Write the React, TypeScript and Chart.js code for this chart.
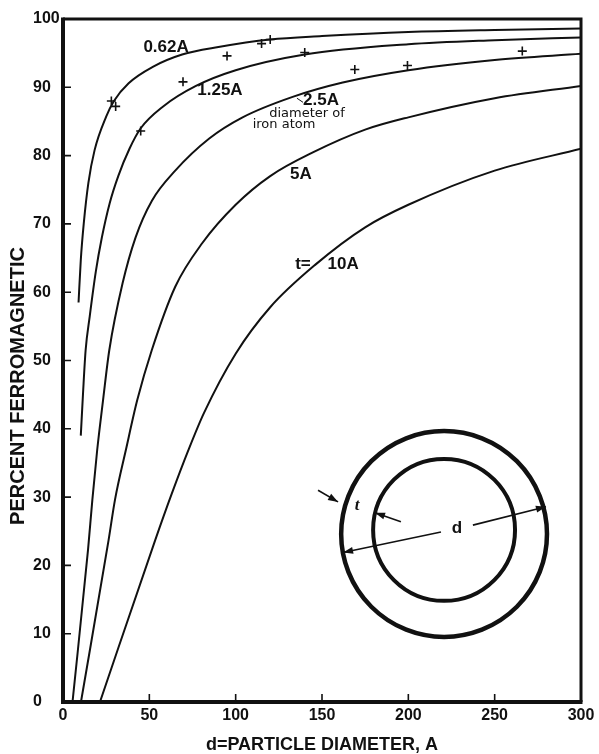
import { useEffect, useRef } from "react";
import { Chart, registerables } from "chart.js";

Chart.register(...registerables);

const SANS = '"Liberation Sans", Arial, sans-serif';
const INK = "#111";

// ---- axis ticks ----
const xTickValues = [0, 50, 100, 150, 200, 250, 300];
const yTickValues = [0, 10, 20, 30, 40, 50, 60, 70, 80, 90, 100];

// ---- curves: shell thickness t (Å); d = particle diameter, p = percent ferromagnetic ----
const d062 = [9, 10.3, 12, 14.7, 18.3, 25, 29.5, 38, 52, 69, 90, 120, 150, 200, 250, 300];
const p062 = [58.5, 64.7, 70, 76, 80.8, 85.7, 88, 90.6, 93, 94.8, 95.9, 97, 97.5, 98.1, 98.4, 98.6];

const d125 = [10.3, 11.6, 13.1, 15.5, 19, 22.5, 27, 32, 38.5, 45, 58, 77, 100, 140, 200, 250, 300];
const p125 = [39, 45.2, 51.5, 56.5, 63, 68, 73, 77, 81, 84, 87.2, 90.2, 92.5, 94.8, 96.3, 96.9, 97.3];

const d250 = [5.5, 14.5, 17, 19.8, 23.2, 26.8, 34.5, 42, 51.5, 65, 84.7, 104, 133, 162, 200, 250, 300];
const p250 = [0, 22.3, 29.6, 36.9, 44.2, 51.5, 61.3, 68, 73.4, 77.8, 82.5, 85.6, 88.6, 90.7, 92.5, 94, 94.9];

const d500 = [10.4, 26.4, 30.1, 36.5, 43, 51.4, 65, 80.7, 100, 120, 145, 175, 200, 250, 300];
const p500 = [0, 23.7, 29.6, 37, 44.2, 51.5, 60.8, 67.2, 72.8, 77, 80.5, 83.8, 85.6, 88.4, 90.2];

const d1000 = [21.4, 53.4, 63, 72.5, 81.6, 100, 120, 146, 175, 200, 250, 300];
const p1000 = [0, 23.7, 30.5, 36.8, 42.3, 51, 57.8, 64, 69.5, 72.8, 77.8, 81];

// ---- measured points (+) ----
const measuredD = [28, 30.5, 45, 69.5, 95, 115, 120, 140, 169, 199.5, 266];
const measuredP = [88, 87.2, 83.6, 90.8, 94.6, 96.4, 97, 95.1, 92.6, 93.2, 95.3];

// ---- text ----
const xTitle = "d=PARTICLE DIAMETER, A";
const yTitle = "PERCENT FERROMAGNETIC";

const curveLabels = [
  { text: "0.62A", at: [59.7, 95.9], font: `bold 17px ${SANS}` },
  { text: "1.25A", at: [90.9, 89.5], font: `bold 17px ${SANS}` },
  { text: "2.5A", at: [149.4, 88.1], font: `bold 17px ${SANS}` },
  { text: "diameter of", at: [141.3, 86.2], font: `13px "DejaVu Sans", sans-serif` },
  { text: "iron atom", at: [128, 84.6], font: `13px "DejaVu Sans", sans-serif` },
  { text: "5A", at: [137.8, 77.2], font: `bold 17px ${SANS}` },
  { text: "t=", at: [139, 64.1], font: `bold 17px ${SANS}` },
  { text: "10A", at: [162.2, 64.1], font: `bold 17px ${SANS}` },
];

// inset sketch of a shell particle, placed in data units
const inset = {
  outer: { c: [220.7, 24.6], r: 59.6 },
  inner: { c: [220.7, 25.2], r: 41.1 },
  tArrowOut: { from: [147.7, 31.0], to: [159.3, 29.3] },
  tArrowIn: { from: [195.7, 26.4], to: [180.7, 27.7] },
  tLabel: [170.3, 28.7],
  dLeft: { from: [218.9, 24.9], to: [162.2, 21.9] },
  dRight: { from: [237.4, 25.9], to: [279.7, 28.6] },
  dLabel: [228.2, 25.5],
  leader25: { from: [135.5, 88.4], to: [139, 87.8] },
};

const pts = (xs: number[], ys: number[]) => xs.map((x, i) => ({ x, y: ys[i] }));

export default function App() {
  const ref = useRef<HTMLCanvasElement>(null);

  useEffect(() => {
    const canvas = ref.current;
    if (!canvas) return;

    const curve = (xs: number[], ys: number[]) => ({
      data: pts(xs, ys),
      showLine: true,
      borderColor: INK,
      borderWidth: 2,
      pointRadius: 0,
      cubicInterpolationMode: "monotone" as const,
      fill: false,
    });

    const overlay = {
      id: "overlay",
      afterDraw(chart: any) {
        const { ctx, chartArea: a, scales } = chart;
        const xs = scales.x;
        const ys = scales.y;
        const X = (v: number) => xs.getPixelForValue(v);
        const Y = (v: number) => ys.getPixelForValue(v);
        ctx.save();
        ctx.strokeStyle = INK;
        ctx.fillStyle = INK;

        // frame
        ctx.lineWidth = 3;
        ctx.beginPath();
        ctx.moveTo(a.left, a.top);
        ctx.lineTo(a.right, a.top);
        ctx.lineTo(a.right, a.bottom);
        ctx.stroke();
        ctx.lineWidth = 4;
        ctx.beginPath();
        ctx.moveTo(a.left, a.top - 1.5);
        ctx.lineTo(a.left, a.bottom);
        ctx.lineTo(a.right + 1.5, a.bottom);
        ctx.stroke();

        // inward tick marks
        ctx.lineWidth = 1.6;
        ctx.beginPath();
        yTickValues.slice(1, -1).forEach((v) => {
          const py = Y(v);
          ctx.moveTo(a.left, py);
          ctx.lineTo(a.left + 8, py);
        });
        xTickValues.slice(1, -1).forEach((v) => {
          const px = X(v);
          ctx.moveTo(px, a.bottom);
          ctx.lineTo(px, a.bottom - 8);
        });
        ctx.stroke();

        // y axis title
        ctx.save();
        ctx.translate(18, 386);
        ctx.rotate(-Math.PI / 2);
        ctx.font = `bold 20px ${SANS}`;
        ctx.textAlign = "center";
        ctx.textBaseline = "middle";
        ctx.fillText(yTitle, 0, 0);
        ctx.restore();

        // curve labels
        ctx.textAlign = "center";
        ctx.textBaseline = "middle";
        curveLabels.forEach((l) => {
          ctx.font = l.font;
          ctx.fillText(l.text, X(l.at[0]), Y(l.at[1]));
        });
        ctx.lineWidth = 1;
        ctx.beginPath();
        ctx.moveTo(X(inset.leader25.from[0]), Y(inset.leader25.from[1]));
        ctx.lineTo(X(inset.leader25.to[0]), Y(inset.leader25.to[1]));
        ctx.stroke();

        // inset circles
        const circle = (c: number[], r: number, w: number) => {
          const cx = X(c[0]);
          const cy = Y(c[1]);
          const rp = X(c[0] + r) - cx;
          ctx.lineWidth = w;
          ctx.beginPath();
          ctx.arc(cx, cy, rp, 0, Math.PI * 2);
          ctx.stroke();
        };
        circle(inset.outer.c, inset.outer.r, 4.5);
        circle(inset.inner.c, inset.inner.r, 4);

        const arrow = (from: number[], to: number[]) => {
          const x1 = X(from[0]), y1 = Y(from[1]);
          const x2 = X(to[0]), y2 = Y(to[1]);
          ctx.lineWidth = 1.6;
          ctx.beginPath();
          ctx.moveTo(x1, y1);
          ctx.lineTo(x2, y2);
          ctx.stroke();
          const ang = Math.atan2(y2 - y1, x2 - x1);
          const L = 10, W = 3.5;
          ctx.beginPath();
          ctx.moveTo(x2, y2);
          ctx.lineTo(x2 - L * Math.cos(ang) + W * Math.sin(ang), y2 - L * Math.sin(ang) - W * Math.cos(ang));
          ctx.lineTo(x2 - L * Math.cos(ang) - W * Math.sin(ang), y2 - L * Math.sin(ang) + W * Math.cos(ang));
          ctx.closePath();
          ctx.fill();
        };
        arrow(inset.tArrowOut.from, inset.tArrowOut.to);
        arrow(inset.tArrowIn.from, inset.tArrowIn.to);
        arrow(inset.dLeft.from, inset.dLeft.to);
        arrow(inset.dRight.from, inset.dRight.to);

        ctx.font = `italic bold 17px "Liberation Serif", serif`;
        ctx.fillText("t", X(inset.tLabel[0]), Y(inset.tLabel[1]));
        ctx.font = `bold 17px ${SANS}`;
        ctx.fillText("d", X(inset.dLabel[0]), Y(inset.dLabel[1]));

        ctx.restore();
      },
    };

    const tickFont = { family: SANS, size: 16, weight: "bold" as const };

    const chart = new Chart(canvas, {
      type: "scatter",
      data: {
        datasets: [
          curve(d062, p062),
          curve(d125, p125),
          curve(d250, p250),
          curve(d500, p500),
          curve(d1000, p1000),
          {
            data: pts(measuredD, measuredP),
            showLine: false,
            pointStyle: "cross",
            pointRadius: 4.5,
            borderWidth: 1.6,
            borderColor: INK,
            backgroundColor: INK,
          } as any,
        ],
      },
      options: {
        responsive: false,
        animation: false,
        devicePixelRatio: 1,
        layout: { padding: { left: 33, right: 18, top: 19, bottom: 0 } },
        plugins: {
          legend: { display: false },
          tooltip: { enabled: false },
        },
        scales: {
          x: {
            type: "linear",
            min: 0,
            max: 300,
            afterBuildTicks: (s: any) => {
              s.ticks = xTickValues.map((value) => ({ value }));
            },
            afterFit: (s: any) => {
              s.height = 52;
            },
            grid: { display: false, drawTicks: false },
            border: { display: false },
            ticks: {
              color: INK,
              font: tickFont,
              padding: 4,
              maxRotation: 0,
              autoSkip: false,
            },
            title: {
              display: true,
              text: xTitle,
              color: INK,
              font: { family: SANS, size: 18, weight: "bold", lineHeight: 1 },
              padding: { top: 0, bottom: 0 },
            },
          },
          y: {
            type: "linear",
            min: 0,
            max: 100,
            afterBuildTicks: (s: any) => {
              s.ticks = yTickValues.map((value) => ({ value }));
            },
            afterFit: (s: any) => {
              s.width = 30;
            },
            grid: { display: false, drawTicks: false },
            border: { display: false },
            ticks: {
              color: INK,
              font: tickFont,
              crossAlign: "far",
              autoSkip: false,
            },
          },
        },
      } as any,
      plugins: [overlay],
    });

    return () => chart.destroy();
  }, []);

  return (
    <div style={{ position: "fixed", left: 0, top: 0, width: 599, height: 754, background: "#fff" }}>
      <canvas ref={ref} width={599} height={754} style={{ display: "block" }} />
    </div>
  );
}
